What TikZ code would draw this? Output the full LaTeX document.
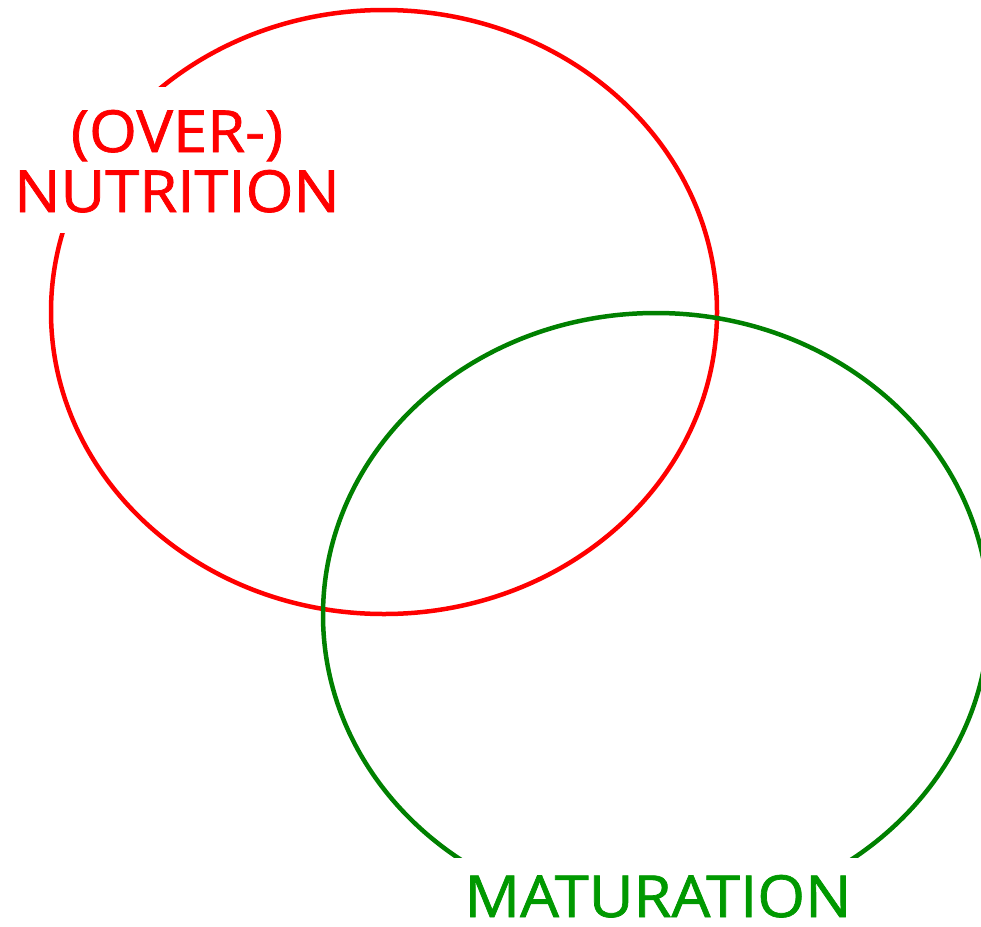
\documentclass[tikz,border=0pt]{standalone}
\usepackage{fontspec}
\setmainfont{Open Sans}
\newfontfamily\lblfont{Open Sans}[FakeBold=1.2]
\definecolor{ellred}{RGB}{255,0,0}
\definecolor{ellgreen}{RGB}{0,128,0}
\definecolor{txtgreen}{RGB}{0,153,0}
\begin{document}
\begin{tikzpicture}[x=1pt,y=-1pt,
  ring/.style={line width=4.5pt},
  mask/.style={fill=white,draw=none},
  lbl/.style={font=\lblfont\fontsize{58}{62}\selectfont, inner sep=0pt, anchor=base, xscale=1.06, text depth=0pt}]
\useasboundingbox (0,0) rectangle (981,926);
\draw[ring,ellred] (384,312) ellipse [x radius=333, y radius=302];
\draw[ring,ellgreen] (656,615) ellipse [x radius=333, y radius=302];
\fill[mask] (0,87) rectangle (350,233);
\fill[mask] (440,858) rectangle (870,926);
\node[lbl,text=ellred] (over) at (177,152) {(OVER-)};
\node[lbl,text=ellred] (nutr) at (177,212) {NUTRITION};
\node[lbl,text=txtgreen] (mat) at (658,917) {MATURATION};
\end{tikzpicture}
\end{document}
